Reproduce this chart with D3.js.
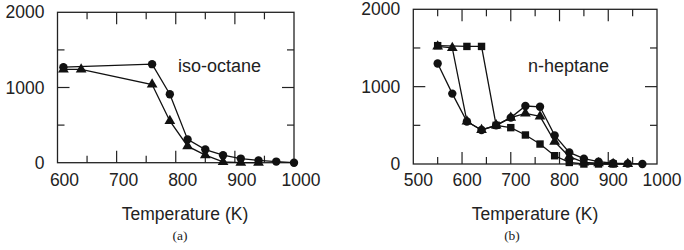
<!DOCTYPE html>
<html>
<head>
<meta charset="utf-8">
<script src="https://cdn.jsdelivr.net/npm/d3@7"></script>
<style>
  body { margin: 0; background: #fff; }
  svg { display: block; }
  text { font-family: "Liberation Sans", Arial, sans-serif; fill: #222; }
</style>
</head>
<body>
<script>
/* chart values */
var isoTemps = [610, 760, 790, 820, 850, 880, 910, 940, 970, 1000];
var isoCircle = [1270, 1310, 910, 310, 175, 100, 55, 30, 15, 0];
var isoTriTemps = [610, 640, 760, 790, 820, 850, 880, 910, 940];
var isoTriangle = [1240, 1240, 1040, 555, 220, 100, 10, 0, 0];

var hepCircleTemps = [550, 580, 610, 640, 670, 700, 730, 760, 790, 820, 850, 880, 910, 940, 970];
var hepCircle = [1300, 910, 550, 440, 500, 600, 750, 740, 370, 150, 70, 30, 10, 5, 0];
var hepTriTemps = [550, 580, 610, 640, 670, 700, 730, 760, 790, 820, 850, 880, 910, 940];
var hepTriangle = [1520, 1500, 550, 440, 500, 600, 655, 615, 290, 95, 20, 10, 0, 0];
var hepSqTemps = [550, 610, 640, 670, 700, 730, 760, 790, 820, 850, 880, 910];
var hepSquare = [1530, 1520, 1520, 500, 470, 375, 258, 107, 20, 0, 0, 0];

var isoXTicks = [600, 700, 800, 900, 1000];
var hepXTicks = [500, 600, 700, 800, 900, 1000];
var yTicks = [0, 1000, 2000];

var svg = d3.select("body").append("svg")
            .attr("width", 684)
            .attr("height", 250);

function zip(xs, ys) {
  return xs.map(function(x, i) { return {t: x, v: ys[i]}; });
}

function drawPanel(p) {
  var x = d3.scaleLinear().domain(p.xDomain).range([p.left, p.right]);
  var y = d3.scaleLinear().domain([0, 2000]).range([p.bottom, p.top]);
  var g = svg.append("g");

  // frame
  g.append("rect")
   .attr("x", p.left).attr("y", p.top)
   .attr("width", p.right - p.left).attr("height", p.bottom - p.top)
   .attr("fill", "none").attr("stroke", "#222").attr("stroke-width", 1.3);

  // inward ticks on all four sides
  var xt = d3.range(p.xDomain[0] + 50, p.xDomain[1], 50);
  xt.forEach(function(t) {
    var len = (t % 100 == 0) ? 12 : 7;
    g.append("line").attr("x1", x(t)).attr("x2", x(t))
     .attr("y1", p.bottom).attr("y2", p.bottom - len)
     .attr("stroke", "#222").attr("stroke-width", 1.2);
    g.append("line").attr("x1", x(t)).attr("x2", x(t))
     .attr("y1", p.top).attr("y2", p.top + len)
     .attr("stroke", "#222").attr("stroke-width", 1.2);
  });
  [500, 1000, 1500].forEach(function(v) {
    var len = (v % 1000 == 0) ? 12 : 7;
    g.append("line").attr("x1", p.left).attr("x2", p.left + len)
     .attr("y1", y(v)).attr("y2", y(v))
     .attr("stroke", "#222").attr("stroke-width", 1.2);
    g.append("line").attr("x1", p.right).attr("x2", p.right - len)
     .attr("y1", y(v)).attr("y2", y(v))
     .attr("stroke", "#222").attr("stroke-width", 1.2);
  });

  // tick labels
  g.selectAll(".xl").data(p.xTicks).enter().append("text")
   .attr("x", function(d) { return x(d) + p.labelShift; })
   .attr("y", 186)
   .attr("text-anchor", "middle")
   .style("font-size", "17.5px")
   .text(function(d) { return d; });
  g.selectAll(".yl").data(yTicks).enter().append("text")
   .attr("x", p.left - 13)
   .attr("y", function(d) { return y(d) + 6; })
   .attr("text-anchor", "end")
   .style("font-size", "17.5px")
   .text(function(d) { return d; });

  g.append("text")
   .attr("x", p.titleX).attr("y", 220)
   .attr("text-anchor", "middle")
   .style("font-size", "17.5px")
   .text("Temperature (K)");
  g.append("text")
   .attr("x", p.capX).attr("y", 240)
   .attr("text-anchor", "middle")
   .style("font-family", "'Liberation Serif', 'Times New Roman', serif")
   .style("font-size", "13.5px")
   .text(p.cap);
  g.append("text")
   .attr("x", p.nameX).attr("y", 72)
   .style("font-size", "18px")
   .text(p.name);

  var line = d3.line()
               .x(function(d) { return x(d.t); })
               .y(function(d) { return y(d.v); });

  p.series.forEach(function(s) {
    var pts = zip(s.t, s.v);
    g.append("path").datum(pts)
     .attr("d", line)
     .attr("fill", "none").attr("stroke", "#111").attr("stroke-width", 1.3);
    var sym = d3.symbol().type(s.shape).size(s.size);
    g.selectAll(null).data(pts).enter().append("path")
     .attr("d", sym)
     .attr("transform", function(d) { return "translate(" + x(d.t) + "," + y(d.v) + ")"; })
     .attr("fill", "#111");
  });
}

drawPanel({
  xDomain: [600, 1000], left: 57.5, right: 294, top: 12.3, bottom: 162.7,
  xTicks: isoXTicks, labelShift: 7, titleX: 185, capX: 180, cap: "(a)",
  name: "iso-octane", nameX: 178,
  series: [
    {t: isoTemps, v: isoCircle, shape: d3.symbolCircle, size: 55},
    {t: isoTriTemps, v: isoTriangle, shape: d3.symbolTriangle, size: 50}
  ]
});

drawPanel({
  xDomain: [500, 1000], left: 413.3, right: 657, top: 9.3, bottom: 164,
  xTicks: hepXTicks, labelShift: 5, titleX: 535, capX: 512, cap: "(b)",
  name: "n-heptane", nameX: 528,
  series: [
    {t: hepSqTemps, v: hepSquare, shape: d3.symbolSquare, size: 55},
    {t: hepTriTemps, v: hepTriangle, shape: d3.symbolTriangle, size: 50},
    {t: hepCircleTemps, v: hepCircle, shape: d3.symbolCircle, size: 55}
  ]
});
</script>
</body>
</html>
